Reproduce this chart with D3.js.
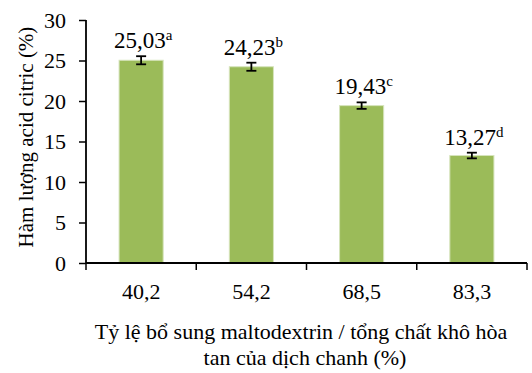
<!DOCTYPE html>
<html>
<head>
<meta charset="utf-8">
<script src="https://cdn.jsdelivr.net/npm/d3@7"></script>
<style>
  html, body { margin: 0; padding: 0; background: #fff; }
  svg { display: block; }
  svg text { font-family: "Liberation Serif", "Times New Roman", serif; fill: #000; }
</style>
</head>
<body>
<svg id="chart" width="532" height="373"></svg>
<script>
// Ratio of maltodextrin to total soluble solids (%) and citric acid content
const categories = ["40,2", "54,2", "68,5", "83,3"];
const values = [25.03, 24.23, 19.43, 13.27];
const errors = [0.5, 0.5, 0.4, 0.35];
const letters = ["a", "b", "c", "d"];
const yTicks = [0, 5, 10, 15, 20, 25, 30];

const svg = d3.select("#chart");
const plotLeft = 86, plotRight = 527, plotTop = 20, plotBottom = 263;

const x = d3.scaleBand().domain(categories).range([plotLeft, plotRight]).paddingInner(0.6).paddingOuter(0.3);
const y = d3.scaleLinear().domain([0, 30]).range([plotBottom, plotTop]);

// Bars
svg.append("g").selectAll("rect").data(values).join("rect")
  .attr("x", (d, i) => x(categories[i]))
  .attr("y", d => y(d))
  .attr("width", x.bandwidth())
  .attr("height", d => y(0) - y(d))
  .attr("fill", "#9BBB59")
  .attr("stroke", "#d6e4bc")
  .attr("stroke-width", 1);

// Error bars
const eg = svg.append("g").attr("stroke", "#000").attr("stroke-width", 1.8);
values.forEach((v, i) => {
  const cx = x(categories[i]) + x.bandwidth() / 2;
  const t = y(v + errors[i]), b = y(v - errors[i]);
  eg.append("line").attr("x1", cx).attr("x2", cx).attr("y1", t).attr("y2", b);
  eg.append("line").attr("x1", cx - 5).attr("x2", cx + 5).attr("y1", t).attr("y2", t);
  eg.append("line").attr("x1", cx - 5).attr("x2", cx + 5).attr("y1", b).attr("y2", b);
});

// Value labels with significance letters
svg.append("g").selectAll("text").data(values).join("text")
  .attr("x", (d, i) => x(categories[i]) + x.bandwidth() / 2 + 2)
  .attr("y", (d, i) => y(d + errors[i]) - 8)
  .attr("text-anchor", "middle")
  .attr("font-size", 23)
  .each(function(d, i) {
    const t = d3.select(this);
    t.append("tspan").text(d.toFixed(2).replace(".", ","));
    t.append("tspan").attr("font-size", 15).attr("dy", -8).text(letters[i]);
  });

// Y axis
const yAxis = svg.append("g")
  .attr("transform", `translate(${plotLeft},0)`)
  .call(d3.axisLeft(y).tickValues(yTicks).tickSize(7).tickPadding(13).tickFormat(d3.format("d")));
yAxis.select(".domain").attr("stroke", "#000").attr("stroke-width", 1.8).attr("d", `M0,${y(30)}V${y(0)}`);
yAxis.selectAll(".tick line").attr("stroke", "#000").attr("stroke-width", 1.5);
yAxis.selectAll(".tick text").attr("font-size", 22);

// X axis with boundary ticks between categories
const xg = svg.append("g").attr("transform", `translate(0,${plotBottom})`);
xg.append("line").attr("x1", plotLeft).attr("x2", plotRight).attr("y1", 0).attr("y2", 0)
  .attr("stroke", "#000").attr("stroke-width", 1.8);
const step = x.step();
const bounds = d3.range(categories.length + 1).map(i => plotLeft + i * step);
xg.selectAll("line.tk").data(bounds).join("line").attr("class", "tk")
  .attr("x1", d => d).attr("x2", d => d).attr("y1", 0).attr("y2", 7)
  .attr("stroke", "#000").attr("stroke-width", 1.5);
xg.selectAll("text").data(categories).join("text")
  .attr("x", d => x(d) + x.bandwidth() / 2)
  .attr("y", 36)
  .attr("text-anchor", "middle")
  .attr("font-size", 22)
  .text(d => d);

// Axis titles
svg.append("text")
  .attr("transform", `translate(33,137) rotate(-90)`)
  .attr("text-anchor", "middle")
  .attr("font-size", 21)
  .text("Hàm lượng acid citric (%)");

const xt = svg.append("text").attr("text-anchor", "middle").attr("font-size", 22);
xt.append("tspan").attr("x", 301).attr("y", 339).text("Tỷ lệ bổ sung maltodextrin / tổng chất khô hòa");
xt.append("tspan").attr("x", 305).attr("y", 365).text("tan của dịch chanh (%)");
</script>
</body>
</html>
